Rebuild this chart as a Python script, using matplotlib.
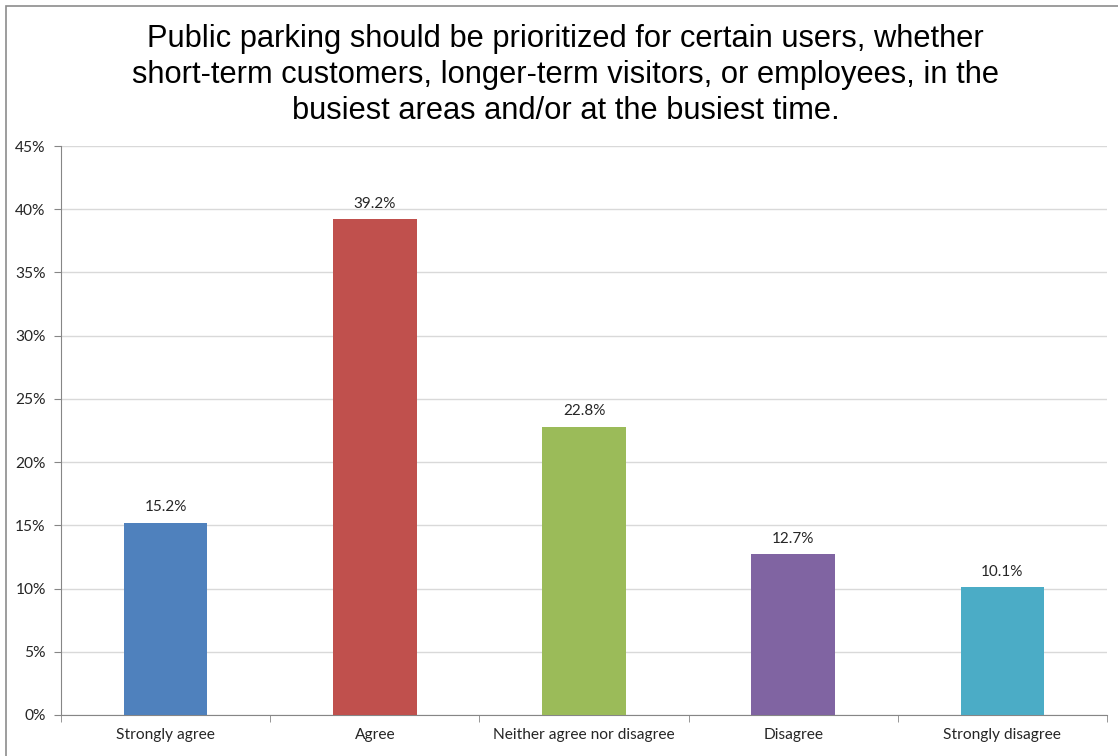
import matplotlib.pyplot as plt
from matplotlib.patches import Rectangle
from matplotlib.ticker import FixedLocator, PercentFormatter

categories = ["Strongly agree", "Agree", "Neither agree nor disagree",
              "Disagree", "Strongly disagree"]
values = [15.2, 39.2, 22.8, 12.7, 10.1]
colors = ["#4F81BD", "#C0504D", "#9BBB59", "#8064A2", "#4BACC6"]
yticks = [0, 5, 10, 15, 20, 25, 30, 35, 40, 45]

title = ("Public parking should be prioritized for certain users, whether\n"
         "short-term customers, longer-term visitors, or employees, in the\n"
         "busiest areas and/or at the busiest time.")

W, H = 1118, 756
fig = plt.figure(figsize=(W / 100, H / 100), dpi=100)
ax = fig.add_axes([61 / W, 1 - 715 / H, (1107 - 61) / W, (715 - 146) / H])

# outer chart frame (only left and top edges fall inside the image)
fig.patches.append(Rectangle((5.5 / W, -0.1), 1.2, 1 - 5.5 / H + 0.1,
                             transform=fig.transFigure, fill=False,
                             edgecolor="#8c8c8c", lw=1.2))

x = range(len(categories))
ax.bar(x, values, width=0.4, color=colors, zorder=3)

for xi, v in zip(x, values):
    ax.annotate(f"{v:.1f}%", (xi, v), xytext=(0, 6), textcoords="offset points",
                ha="center", va="bottom", fontsize=11, family="Lato",
                color="#262626")

ax.set_xlim(-0.5, len(categories) - 0.5)
ax.set_ylim(0, 45)
ax.set_yticks(yticks)
ax.yaxis.set_major_formatter(PercentFormatter(decimals=0))
ax.grid(axis="y", color="#d9d9d9", lw=1, zorder=0)

ax.set_xticks(list(x))
ax.set_xticklabels(categories)
ax.xaxis.set_minor_locator(FixedLocator([i - 0.5 for i in range(len(categories) + 1)]))
ax.tick_params(axis="x", which="major", length=0, pad=9)
ax.tick_params(axis="x", which="minor", length=5, color="#868686")
ax.tick_params(axis="y", length=5, color="#868686", pad=6)
for lab in ax.get_xticklabels() + ax.get_yticklabels():
    lab.set_family("Lato")
    lab.set_fontsize(11.2)
    lab.set_color("#262626")

for s in ["top", "right"]:
    ax.spines[s].set_visible(False)
for s in ["left", "bottom"]:
    ax.spines[s].set_color("#868686")

fig.text(0.506, 1 - 24 / H, title, ha="center", va="top", fontsize=22.2,
         family="Liberation Sans", linespacing=1.27)

fig.savefig("out.png", dpi=100)
